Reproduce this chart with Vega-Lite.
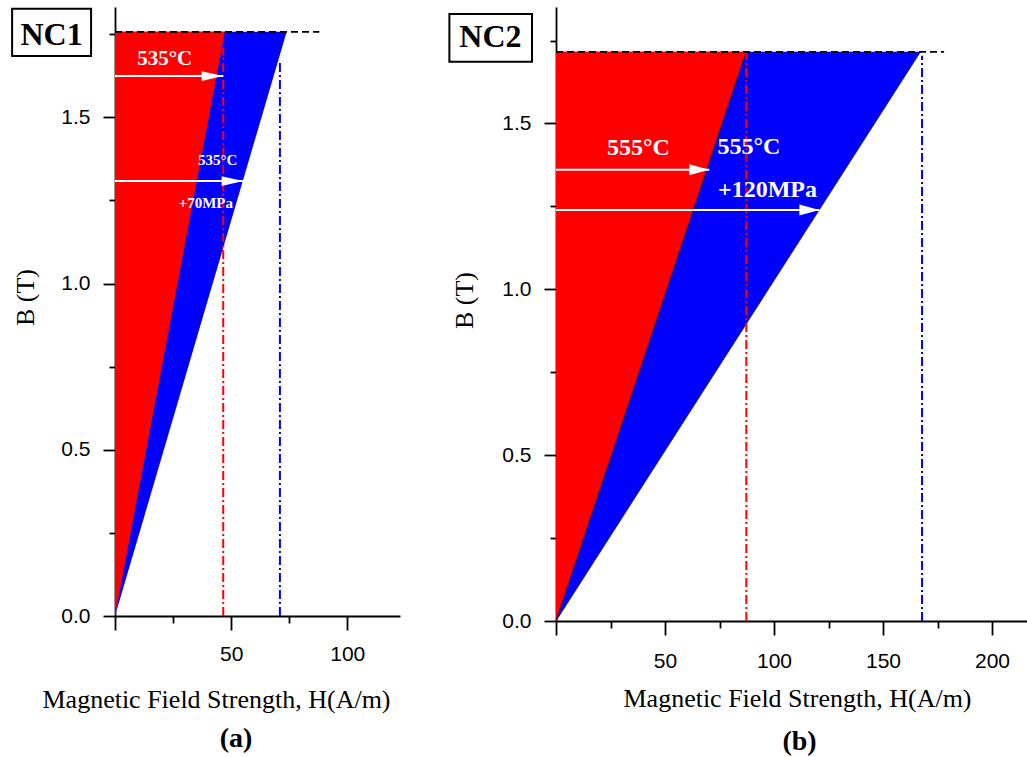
{
  "$schema": "https://vega.github.io/schema/vega-lite/v6.json",
  "background": "white",
  "padding": {"left": 11, "top": 7, "right": 0, "bottom": 0},
  "spacing": 48,
  "config": {
    "view": {"stroke": null},
    "axis": {"grid": false, "domainColor": "black", "domainWidth": 1.8, "tickColor": "black", "tickWidth": 1.8, "labelFont": "Liberation Sans", "labelFontSize": 21, "labelColor": "black", "titleFont": "Liberation Serif", "titleFontWeight": "normal", "titleColor": "black", "labelFlush": false, "labelOverlap": false}
  },
  "datasets": {
    "triA": [{"B": 0, "Hred": 0, "Hblue": 0}, {"B": 1.757, "Hred": 47.3, "Hblue": 73.9}],
    "vlinesA": [{"H": 46.6, "B0": 0, "B1": 1.71, "line": "thermal"}, {"H": 71, "B0": 0, "B1": 1.672, "line": "stress"}],
    "dashA": [{"H0": 0, "H1": 88, "B": 1.757}],
    "arrowsA": [{"B": 1.624, "Hstart": 0, "Htip": 46.6}, {"B": 1.308, "Hstart": 0, "Htip": 55.2}],
    "textA": [{"label": "535°C", "kind": "big", "H": 21.4, "B": 1.676}, {"label": "535°C", "kind": "small", "H": 44.2, "B": 1.371}, {"label": "+70MPa", "kind": "small", "H": 39.1, "B": 1.243}],
    "boxA": [{"label": "NC1", "H1": -44.3, "H2": -10.3, "B1": 1.684, "B2": 1.826, "Hc": -27.3, "Bc": 1.747}],
    "capA": [{"label": "(a)", "H": 52.1, "B": -0.394}],
    "triB": [{"B": 0, "Hred": 0, "Hblue": 0}, {"B": 1.716, "Hred": 87.2, "Hblue": 167.2}],
    "vlinesB": [{"H": 87.3, "B0": 0, "B1": 1.716, "line": "thermal"}, {"H": 167.9, "B0": 0, "B1": 1.704, "line": "stress"}],
    "dashB": [{"H0": 0, "H1": 178, "B": 1.716}],
    "arrowsB": [{"B": 1.36, "Hstart": 0, "Htip": 70.3}, {"B": 1.239, "Hstart": 0, "Htip": 120.8}],
    "textB": [{"label": "555°C", "H": 37.8, "B": 1.427}, {"label": "555°C", "H": 88.5, "B": 1.43}, {"label": "+120MPa", "H": 97, "B": 1.3}],
    "edgesB": [{"edge": "red", "H": 0, "B": 0}, {"edge": "red", "H": 87.2, "B": 1.716}, {"edge": "blue", "H": 0, "B": 0}, {"edge": "blue", "H": 167.2, "B": 1.716}],
    "boxB": [{"label": "NC2", "H1": -48.9, "H2": -11, "B1": 1.686, "B2": 1.83, "Hc": -30.1, "Bc": 1.761}],
    "capB": [{"label": "(b)", "H": 111.7, "B": -0.389}]
  },
  "hconcat": [
    {
      "width": 285,
      "height": 609,
      "layer": [
        {
          "data": {"name": "triA"},
          "mark": {"type": "area", "orient": "horizontal", "color": "#0000FF", "clip": false},
          "encoding": {
            "y": {"field": "B", "type": "quantitative", "scale": {"domain": [0, 1.8316], "nice": false, "zero": false},
              "axis": {"title": "B (T)", "titleFontSize": 26, "titleX": -90, "titleY": 290, "titleAngle": 270, "titleAlign": "center", "titleBaseline": "middle",
                "values": [0, 0.25, 0.5, 0.75, 1, 1.25, 1.5, 1.75], "format": ".1f",
                "labelExpr": "(datum.value * 2) % 1 === 0 ? datum.label : ''",
                "tickSize": {"condition": {"test": "(datum.value * 2) % 1 !== 0", "value": 6}, "value": 12},
                "labelPadding": 13}},
            "x": {"field": "Hblue", "type": "quantitative", "scale": {"domain": [0, 122.7], "nice": false},
              "axis": {"title": "Magnetic Field Strength, H(A/m)", "titleFontSize": 26, "titleX": 101, "titleY": 91, "titleAlign": "center", "titleBaseline": "alphabetic",
                "values": [0, 25, 50, 75, 100],
                "labelExpr": "datum.value > 0 && datum.value % 50 === 0 ? datum.label : ''",
                "tickSize": {"condition": {"test": "datum.value % 50 !== 0", "value": 7}, "value": 14},
                "labelPadding": 13}},
            "x2": {"datum": 0}
          }
        },
        {
          "data": {"name": "triA"},
          "mark": {"type": "area", "orient": "horizontal", "color": "#FF0000", "clip": false},
          "encoding": {
            "y": {"field": "B", "type": "quantitative"},
            "x": {"field": "Hred", "type": "quantitative"},
            "x2": {"datum": 0}
          }
        },
        {
          "data": {"name": "vlinesA"},
          "mark": {"type": "rule", "strokeWidth": 2, "strokeDash": [9, 3, 2, 3], "clip": false},
          "encoding": {
            "x": {"field": "H", "type": "quantitative"},
            "y": {"field": "B0", "type": "quantitative"},
            "y2": {"field": "B1"},
            "color": {"field": "line", "type": "nominal", "scale": {"domain": ["thermal", "stress"], "range": ["#FF0000", "#0000FF"]}, "legend": null}
          }
        },
        {
          "data": {"name": "dashA"},
          "mark": {"type": "rule", "strokeWidth": 1.8, "strokeDash": [7, 4], "color": "black", "clip": false},
          "encoding": {
            "x": {"field": "H0", "type": "quantitative"},
            "x2": {"field": "H1"},
            "y": {"field": "B", "type": "quantitative"}
          }
        },
        {
          "data": {"name": "arrowsA"},
          "mark": {"type": "rule", "strokeWidth": 2, "color": "white", "clip": false},
          "encoding": {
            "x": {"field": "Hstart", "type": "quantitative"},
            "x2": {"field": "Htip"},
            "y": {"field": "B", "type": "quantitative"}
          }
        },
        {
          "data": {"name": "arrowsA"},
          "mark": {"type": "point", "shape": "M-2,-0.45L0,0L-2,0.45Z", "filled": true, "color": "white", "opacity": 1, "size": 466, "strokeWidth": 0, "clip": false},
          "encoding": {
            "x": {"field": "Htip", "type": "quantitative"},
            "y": {"field": "B", "type": "quantitative"}
          }
        },
        {
          "data": {"name": "textA"},
          "transform": [{"filter": "datum.kind === 'big'"}],
          "mark": {"type": "text", "font": "Liberation Serif", "fontWeight": "bold", "fontSize": 21, "color": "white", "align": "center", "baseline": "middle", "clip": false},
          "encoding": {
            "x": {"field": "H", "type": "quantitative"},
            "y": {"field": "B", "type": "quantitative"},
            "text": {"field": "label"}
          }
        },
        {
          "data": {"name": "textA"},
          "transform": [{"filter": "datum.kind === 'small'"}],
          "mark": {"type": "text", "font": "Liberation Serif", "fontWeight": "bold", "fontSize": 15, "color": "white", "align": "center", "baseline": "middle", "clip": false},
          "encoding": {
            "x": {"field": "H", "type": "quantitative"},
            "y": {"field": "B", "type": "quantitative"},
            "text": {"field": "label"}
          }
        },
        {
          "data": {"name": "boxA"},
          "mark": {"type": "rect", "fill": "white", "stroke": "black", "strokeWidth": 2, "clip": false},
          "encoding": {
            "x": {"field": "H1", "type": "quantitative"},
            "x2": {"field": "H2"},
            "y": {"field": "B1", "type": "quantitative"},
            "y2": {"field": "B2"}
          }
        },
        {
          "data": {"name": "boxA"},
          "mark": {"type": "text", "font": "Liberation Serif", "fontWeight": "bold", "fontSize": 32, "color": "black", "align": "center", "baseline": "middle", "clip": false},
          "encoding": {
            "x": {"field": "Hc", "type": "quantitative"},
            "y": {"field": "Bc", "type": "quantitative"},
            "text": {"field": "label"}
          }
        },
        {
          "data": {"name": "capA"},
          "mark": {"type": "text", "font": "Liberation Serif", "fontWeight": "bold", "fontSize": 28, "color": "black", "align": "center", "baseline": "alphabetic", "clip": false},
          "encoding": {
            "x": {"field": "H", "type": "quantitative"},
            "y": {"field": "B", "type": "quantitative"},
            "text": {"field": "label"}
          }
        }
      ]
    },
    {
      "width": 472,
      "height": 614,
      "layer": [
        {
          "data": {"name": "triB"},
          "mark": {"type": "area", "orient": "horizontal", "color": "#0000FF", "clip": false},
          "encoding": {
            "y": {"field": "B", "type": "quantitative", "scale": {"domain": [0, 1.851], "nice": false, "zero": false},
              "axis": {"title": "B (T)", "titleFontSize": 26, "titleX": -91.5, "titleY": 293, "titleAngle": 270, "titleAlign": "center", "titleBaseline": "middle",
                "values": [0, 0.25, 0.5, 0.75, 1, 1.25, 1.5, 1.75], "format": ".1f",
                "labelExpr": "(datum.value * 2) % 1 === 0 ? datum.label : ''",
                "tickSize": {"condition": {"test": "(datum.value * 2) % 1 !== 0", "value": 6}, "value": 12},
                "labelPadding": 13}},
            "x": {"field": "Hblue", "type": "quantitative", "scale": {"domain": [0, 216.5], "nice": false},
              "axis": {"title": "Magnetic Field Strength, H(A/m)", "titleFontSize": 26, "titleX": 241, "titleY": 85, "titleAlign": "center", "titleBaseline": "alphabetic",
                "values": [0, 25, 50, 75, 100, 125, 150, 175, 200],
                "labelExpr": "datum.value > 0 && datum.value % 50 === 0 ? datum.label : ''",
                "tickSize": {"condition": {"test": "datum.value % 50 !== 0", "value": 7}, "value": 14},
                "labelPadding": 15}},
            "x2": {"datum": 0}
          }
        },
        {
          "data": {"name": "triB"},
          "mark": {"type": "area", "orient": "horizontal", "color": "#FF0000", "clip": false},
          "encoding": {
            "y": {"field": "B", "type": "quantitative"},
            "x": {"field": "Hred", "type": "quantitative"},
            "x2": {"datum": 0}
          }
        },
        {
          "data": {"name": "edgesB"},
          "mark": {"type": "line", "color": "#222222", "strokeWidth": 0.8, "clip": false},
          "encoding": {
            "x": {"field": "H", "type": "quantitative"},
            "y": {"field": "B", "type": "quantitative"},
            "detail": {"field": "edge"}
          }
        },
        {
          "data": {"name": "vlinesB"},
          "mark": {"type": "rule", "strokeWidth": 2, "strokeDash": [9, 3, 2, 3], "clip": false},
          "encoding": {
            "x": {"field": "H", "type": "quantitative"},
            "y": {"field": "B0", "type": "quantitative"},
            "y2": {"field": "B1"},
            "color": {"field": "line", "type": "nominal", "scale": {"domain": ["thermal", "stress"], "range": ["#FF0000", "#0000FF"]}, "legend": null}
          }
        },
        {
          "data": {"name": "dashB"},
          "mark": {"type": "rule", "strokeWidth": 1.8, "strokeDash": [7, 4], "color": "black", "clip": false},
          "encoding": {
            "x": {"field": "H0", "type": "quantitative"},
            "x2": {"field": "H1"},
            "y": {"field": "B", "type": "quantitative"}
          }
        },
        {
          "data": {"name": "arrowsB"},
          "mark": {"type": "rule", "strokeWidth": 2, "color": "white", "clip": false},
          "encoding": {
            "x": {"field": "Hstart", "type": "quantitative"},
            "x2": {"field": "Htip"},
            "y": {"field": "B", "type": "quantitative"}
          }
        },
        {
          "data": {"name": "arrowsB"},
          "mark": {"type": "point", "shape": "M-2,-0.55L0,0L-2,0.55Z", "filled": true, "color": "white", "opacity": 1, "size": 400, "strokeWidth": 0, "clip": false},
          "encoding": {
            "x": {"field": "Htip", "type": "quantitative"},
            "y": {"field": "B", "type": "quantitative"}
          }
        },
        {
          "data": {"name": "textB"},
          "mark": {"type": "text", "font": "Liberation Serif", "fontWeight": "bold", "fontSize": 24, "color": "white", "align": "center", "baseline": "middle", "clip": false},
          "encoding": {
            "x": {"field": "H", "type": "quantitative"},
            "y": {"field": "B", "type": "quantitative"},
            "text": {"field": "label"}
          }
        },
        {
          "data": {"name": "boxB"},
          "mark": {"type": "rect", "fill": "white", "stroke": "black", "strokeWidth": 2, "clip": false},
          "encoding": {
            "x": {"field": "H1", "type": "quantitative"},
            "x2": {"field": "H2"},
            "y": {"field": "B1", "type": "quantitative"},
            "y2": {"field": "B2"}
          }
        },
        {
          "data": {"name": "boxB"},
          "mark": {"type": "text", "font": "Liberation Serif", "fontWeight": "bold", "fontSize": 32, "color": "black", "align": "center", "baseline": "middle", "clip": false},
          "encoding": {
            "x": {"field": "Hc", "type": "quantitative"},
            "y": {"field": "Bc", "type": "quantitative"},
            "text": {"field": "label"}
          }
        },
        {
          "data": {"name": "capB"},
          "mark": {"type": "text", "font": "Liberation Serif", "fontWeight": "bold", "fontSize": 28, "color": "black", "align": "center", "baseline": "alphabetic", "clip": false},
          "encoding": {
            "x": {"field": "H", "type": "quantitative"},
            "y": {"field": "B", "type": "quantitative"},
            "text": {"field": "label"}
          }
        }
      ]
    }
  ]
}
